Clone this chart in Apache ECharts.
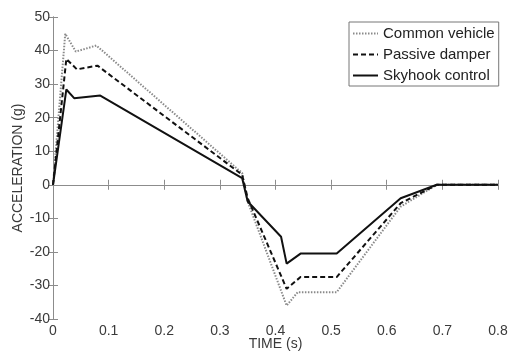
<!DOCTYPE html>
<html><head><meta charset="utf-8">
<script src="https://cdn.jsdelivr.net/npm/echarts@6/dist/echarts.min.js"></script>
<style>html,body{margin:0;padding:0;background:#fff}#c{width:508px;height:353px}</style>
</head><body><div id="c"></div>
<script>
var xTicks = [0,0.1,0.2,0.3,0.4,0.5,0.6,0.7,0.8];
var yTicks = [-40,-30,-20,-10,0,10,20,30,40,50];
var commonT = [0,0.022,0.041,0.078,0.34,0.35,0.42,0.44,0.51,0.625,0.69,0.8];
var commonV = [0,45,39.7,41.5,3.5,-5,-36,-32,-32,-6.5,0,0];
var passiveT = [0,0.024,0.043,0.08,0.34,0.35,0.42,0.445,0.51,0.625,0.69,0.8];
var passiveV = [0,37.5,34.4,35.5,3,-4,-31,-27.5,-27.5,-5.5,0,0];
var skyT = [0,0.024,0.038,0.085,0.34,0.35,0.41,0.42,0.445,0.51,0.625,0.69,0.8];
var skyV = [0,28.4,25.8,26.6,2,-5,-15.5,-23.5,-20.5,-20.5,-4,0,0];
var names = ['Common vehicle','Passive damper','Skyhook control'];
function pairs(t,v){return t.map(function(x,i){return [x,v[i]];});}
var chart = echarts.init(document.getElementById('c'));
var axisCol = '#8c8c8c', txt = '#3a3a3a', font = 'Liberation Sans, Arial, sans-serif';
chart.setOption({
  animation:false,
  grid:{left:53,right:10,top:17,bottom:34,containLabel:false,outerBoundsMode:'none'},
  legend:{
    show:true, left:349, top:22, orient:'vertical', itemWidth:25, itemHeight:14, itemGap:6,
    padding:[4,4,3,3], borderColor:'#777', borderWidth:1, backgroundColor:'#fff',
    itemStyle:{opacity:0},
    textStyle:{fontSize:15,color:'#222',fontFamily:font},
    data:names
  },
  xAxis:[{
    type:'value',min:0,max:0.8,interval:0.1,
    name:'TIME (s)',nameLocation:'middle',nameGap:18,nameMoveOverlap:false,
    nameTextStyle:{fontSize:14,color:txt,fontFamily:font},
    axisLine:{lineStyle:{color:axisCol,width:1}},
    axisTick:{inside:true,length:5,lineStyle:{color:axisCol}},
    axisLabel:{fontSize:14,color:txt,fontFamily:font,margin:5,formatter:function(v){return String(Math.round(v*10)/10);}},
    splitLine:{show:false}
  },{
    type:'value',min:0,max:0.8,interval:0.1,position:'top',
    axisLine:{show:true,lineStyle:{color:axisCol}},
    axisTick:{inside:true,length:5,lineStyle:{color:axisCol}},
    axisLabel:{show:false},splitLine:{show:false}
  }],
  yAxis:[{
    type:'value',min:-40,max:50,interval:10,
    name:'ACCELERATION (g)',nameLocation:'middle',nameGap:28,nameRotate:90,nameMoveOverlap:false,
    nameTextStyle:{fontSize:14,color:txt,fontFamily:font},
    axisLine:{show:true,lineStyle:{color:axisCol}},
    axisTick:{show:true,inside:true,length:5,lineStyle:{color:axisCol}},
    axisLabel:{fontSize:14,color:txt,fontFamily:font,margin:3},
    splitLine:{show:false}
  },{
    type:'value',min:-40,max:50,interval:10,position:'right',
    axisLine:{show:true,lineStyle:{color:axisCol}},
    axisTick:{show:true,inside:true,length:5,lineStyle:{color:axisCol}},
    axisLabel:{show:false},splitLine:{show:false}
  }],
  series:[
    {name:names[0],type:'line',symbol:'none',data:pairs(commonT,commonV),
     lineStyle:{color:'#8a8a8a',width:2,type:[1.5,1.5]},itemStyle:{color:'#8a8a8a'},z:2},
    {name:names[1],type:'line',symbol:'none',data:pairs(passiveT,passiveV),
     lineStyle:{color:'#111',width:2,type:[5,3]},itemStyle:{color:'#111'},z:3},
    {name:names[2],type:'line',symbol:'none',data:pairs(skyT,skyV),
     lineStyle:{color:'#111',width:2,type:'solid'},itemStyle:{color:'#111'},z:4}
  ]
});
</script></body></html>
